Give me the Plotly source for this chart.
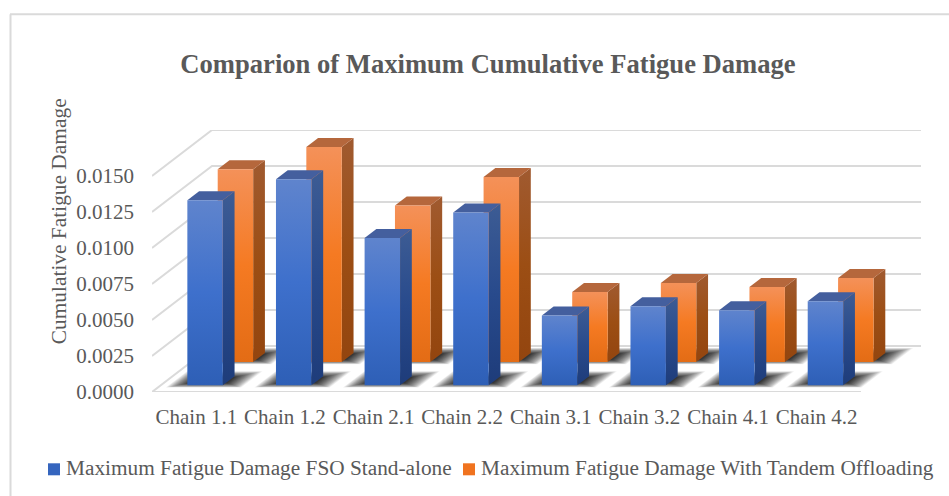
import plotly.graph_objects as go

categories = ["Chain 1.1", "Chain 1.2", "Chain 2.1", "Chain 2.2",
              "Chain 3.1", "Chain 3.2", "Chain 4.1", "Chain 4.2"]
stand_alone = [0.01285, 0.0143, 0.01023, 0.0120, 0.00484, 0.00549, 0.00521, 0.00583]
tandem = [0.01338, 0.01493, 0.01086, 0.01285, 0.00486, 0.00549, 0.00521, 0.00583]
y_ticks = [0, 0.0025, 0.005, 0.0075, 0.01, 0.0125, 0.015]

SERIF = "Liberation Serif"
TEXT = "#595959"
GRID = "#DADADA"

# Oblique projection: one unit of depth shifts a point right and up on the axes.
DEPTH_X = 0.677
DEPTH_Y = 0.003194
BAR_LEFT, BAR_RIGHT = 0.30, 0.70


def project(x, depth, value):
    return x + depth * DEPTH_X, value + depth * DEPTH_Y


def polygon(points):
    xs, ys = zip(*points)
    return list(xs) + [xs[0]], list(ys) + [ys[0]]


def gradient(colors):
    return dict(type="vertical", colorscale=colors)


def face(points, **style):
    xs, ys = polygon(points)
    return go.Scatter(x=xs, y=ys, mode="lines", fill="toself", line=dict(width=0),
                      hoverinfo="skip", showlegend=False, cliponaxis=False, **style)


def shadow_layers(near, far, layers=24):
    # Stacked translucent floor polygons give the soft drop shadow; the layers
    # bunch up near the bar so the darkness falls away towards the rim.
    traces = []
    for k in range(layers, 0, -1):
        t = (k / layers) ** 1.25
        xs, ys = [], []
        for i in range(len(categories)):
            x0 = i + BAR_LEFT - 0.01 - 0.20 * t
            x1 = i + BAR_RIGHT + 0.01 + 0.23 * t
            z0 = near + 0.05 - 0.10 * t
            z1 = far - 0.02 + 0.13 * t
            px, py = polygon([project(x0, z0, 0), project(x1, z0, 0),
                              project(x1, z1, 0), project(x0, z1, 0)])
            xs += px + [None]
            ys += py + [None]
        traces.append(go.Scatter(x=xs, y=ys, mode="lines", fill="toself", line=dict(width=0),
                                 fillcolor="rgba(0,0,0,0.06)", hoverinfo="skip",
                                 showlegend=False, cliponaxis=False))
    return traces


def bars(values, near, far, front, side, top):
    traces = shadow_layers(near, far)
    for i, v in enumerate(values):
        x0, x1 = i + BAR_LEFT, i + BAR_RIGHT
        traces.append(face([project(x1, near, 0), project(x1, far, 0),
                            project(x1, far, v), project(x1, near, v)],
                           fillgradient=gradient(side)))
        traces.append(face([project(x0, near, v), project(x1, near, v),
                            project(x1, far, v), project(x0, far, v)],
                           fillcolor=top))
        traces.append(face([project(x0, near, 0), project(x1, near, 0),
                            project(x1, near, v), project(x0, near, v)],
                           fillgradient=gradient(front)))
    return traces


fig = go.Figure()

# Back and side walls, then the floor outline.
n = len(categories)
for v in y_ticks:
    xs, ys = zip(project(0, 0, v), project(0, 1, v), project(n, 1, v))
    fig.add_trace(go.Scatter(x=xs, y=ys, mode="lines", line=dict(color=GRID, width=2),
                             hoverinfo="skip", showlegend=False, cliponaxis=False))
# Front edge of the floor.
fig.add_trace(go.Scatter(x=[0, n], y=[0, 0], mode="lines", line=dict(color=GRID, width=2),
                         hoverinfo="skip", showlegend=False, cliponaxis=False))

BLUE_FRONT = [[0, "#2E5FB6"], [0.5, "#3E70CC"], [1, "#5F84CD"]]
BLUE_SIDE = [[0, "#1E3C7A"], [0.5, "#284A8C"], [1, "#3D5C94"]]
ORANGE_FRONT = [[0, "#E36C15"], [0.5, "#F57A22"], [1, "#F49159"]]
ORANGE_SIDE = [[0, "#93450F"], [0.5, "#9C4E14"], [1, "#A05A30"]]

for tr in bars(tandem, 0.652, 0.848, ORANGE_FRONT, ORANGE_SIDE, "#B5673C"):
    fig.add_trace(tr)
for tr in bars(stand_alone, 0.146, 0.342, BLUE_FRONT, BLUE_SIDE, "#445F9E"):
    fig.add_trace(tr)

LEGEND = [("Maximum Fatigue Damage FSO Stand-alone", "#3565BE", 48, 64),
          ("Maximum Fatigue Damage With Tandem Offloading", "#F0731F", 463, 479)]

W, H = 949, 496
L, R, T, B = 152, 28, 129.7, 104.3
plot_w = W - L - R
plot_h = H - T - B


def paper_x(px):
    return (px - L) / plot_w


def paper_y(py):
    return (H - B - py) / plot_h


shapes = [
    dict(type="line", xref="paper", yref="paper", x0=paper_x(10.5), x1=paper_x(10.5),
         y0=paper_y(14), y1=paper_y(H), line=dict(color=GRID, width=2)),
    dict(type="line", xref="paper", yref="paper", x0=paper_x(10), x1=paper_x(W),
         y0=paper_y(14), y1=paper_y(14), line=dict(color=GRID, width=2)),
]
annotations = [
    dict(text="Cumulative Fatigue Damage", textangle=-90, xref="paper", yref="paper",
         x=paper_x(59), y=paper_y(221), xanchor="center", yanchor="middle", showarrow=False,
         font=dict(family=SERIF, size=21.4, color=TEXT)),
]
for name, color, key_x, text_x in LEGEND:
    shapes.append(dict(type="rect", xref="paper", yref="paper",
                       x0=paper_x(key_x), x1=paper_x(key_x + 12),
                       y0=paper_y(475), y1=paper_y(463),
                       fillcolor=color, line=dict(width=0)))
    annotations.append(dict(text=name, xref="paper", yref="paper", x=paper_x(text_x),
                            y=paper_y(468), xanchor="left", yanchor="middle", showarrow=False,
                            font=dict(family=SERIF, size=21.3, color=TEXT)))

fig.update_layout(
    width=W, height=H, margin=dict(l=L, r=R, t=T, b=B),
    paper_bgcolor="white", plot_bgcolor="white", showlegend=False,
    title=dict(text="<b>Comparion of Maximum Cumulative Fatigue Damage</b>",
               x=488 / W, xanchor="center", y=1 - 64 / H, yanchor="middle",
               font=dict(family=SERIF, size=26.6, color=TEXT)),
    xaxis=dict(range=[0, n + DEPTH_X], tickmode="array",
               tickvals=[i + 0.5 for i in range(n)], ticktext=categories,
               showgrid=False, zeroline=False, ticks="", ticklabelstandoff=10,
               tickfont=dict(family=SERIF, size=21, color=TEXT)),
    yaxis=dict(range=[0, 0.015 + DEPTH_Y], tickmode="array", tickvals=y_ticks,
               tickformat=".4f", showgrid=False, zeroline=False, ticks="",
               ticklabelstandoff=17,
               tickfont=dict(family=SERIF, size=21, color=TEXT)),
    shapes=shapes, annotations=annotations,
)

fig.write_html("out.html")
